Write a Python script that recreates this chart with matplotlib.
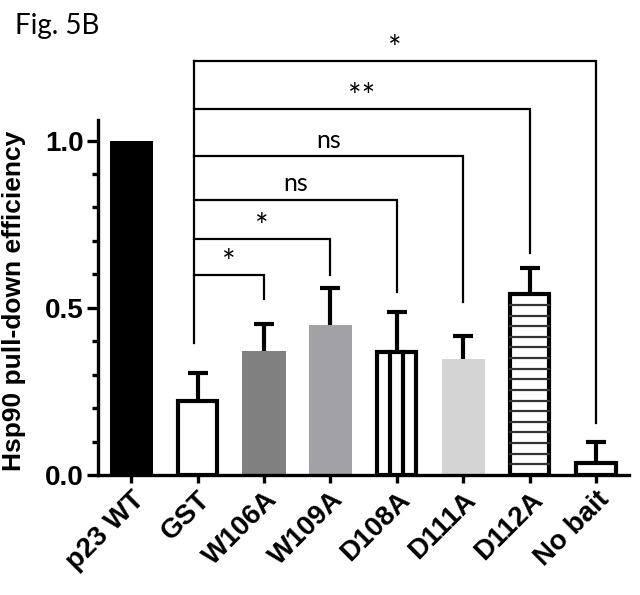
import numpy as np
import matplotlib
matplotlib.use("Agg")
import matplotlib.pyplot as plt
from matplotlib.ticker import FixedLocator

# datos
categorias = ["p23 WT", "GST", "W106A", "W109A", "D108A", "D111A", "D112A", "No bait"]
medias = [1.0, 0.22, 0.37, 0.447, 0.368, 0.348, 0.54, 0.037]
errores = [0.0, 0.085, 0.082, 0.113, 0.12, 0.069, 0.08, 0.063]
colores = ["black", "white", "#808080", "#a2a2a6", "white", "#d4d4d4", "white", "white"]
con_borde = [False, True, False, False, True, False, True, True]

# brackets de significancia (todas contra GST)
comp_destino = [2, 3, 4, 5, 6, 7]
comp_altura = [0.599, 0.706, 0.822, 0.953, 1.095, 1.237]
comp_fondo = [0.527, 0.597, 0.548, 0.518, 0.665, 0.156]
comp_texto = ["*", "*", "ns", "ns", "**", "*"]
gst_fondo = 0.396

plt.rcParams["font.family"] = ["Liberation Sans", "DejaVu Sans"]
fig = plt.figure(figsize=(6.4, 5.95), dpi=100)
ax = fig.add_axes([0.153, 0.2017, 0.830, 0.7308])

x = np.arange(len(categorias))
LW = 3.0
for i, (m, c, b) in enumerate(zip(medias, colores, con_borde)):
    w = 0.59 if b else 0.65
    ax.bar(x[i], m, width=w, color=c, edgecolor="black" if b else c,
           linewidth=LW if b else 0, zorder=2)
    if errores[i] > 0:
        _, caps, _ = ax.errorbar(x[i], m, yerr=[[0], [errores[i]]], fmt="none",
                                 ecolor="black", elinewidth=LW, capsize=7.5,
                                 capthick=LW, zorder=1)
        # solo la tapa superior
        for cap in caps:
            if np.allclose(cap.get_ydata(), m):
                cap.set_visible(False)

# rayado vertical D108A
i = categorias.index("D108A")
for dx in (-0.59 / 6, 0.59 / 6):
    ax.plot([x[i] + dx] * 2, [0, medias[i]], color="black", lw=LW, zorder=3)
# rayado horizontal D112A
i = categorias.index("D112A")
paso = medias[i] / 17
for k in range(1, 17):
    ax.plot([x[i] - 0.59 / 2, x[i] + 0.59 / 2], [k * paso] * 2,
            color="#333333", lw=1.6, zorder=3)

# brackets
x0 = x[1] - 0.05
ax.plot([x0, x0], [gst_fondo, max(comp_altura)], color="black", lw=1.6,
        clip_on=False, zorder=4)
for d, h, f, t in zip(comp_destino, comp_altura, comp_fondo, comp_texto):
    ax.plot([x0, x[d], x[d]], [h, h, f], color="black", lw=1.6,
            clip_on=False, zorder=4, solid_joinstyle="miter")
    if "*" in t:
        ax.text((x0 + x[d]) / 2, h - 0.012, t, ha="center", va="bottom",
                fontsize=23, family=["Lato", "DejaVu Sans"])
    else:
        ax.text((x0 + x[d]) / 2, h + 0.014, t, ha="center", va="bottom",
                fontsize=18, family=["Lato", "DejaVu Sans"])

ax.set_xlim(-0.5, 7.5)
ax.set_ylim(0, 1.30)
ax.spines[["top", "right"]].set_visible(False)
ax.spines["left"].set_bounds(0, 1.06)
ax.spines["left"].set_linewidth(2.4)
ax.spines["bottom"].set_linewidth(2.4)
ax.set_yticks([0, 0.5, 1.0], ["0.0", "0.5", "1.0"])
ax.yaxis.set_minor_locator(FixedLocator([0.1, 0.2, 0.3, 0.4, 0.6, 0.7, 0.8, 0.9]))
ax.tick_params(axis="y", which="major", length=8, width=2.4, labelsize=20, pad=2)
ax.tick_params(axis="y", which="minor", length=4.5, width=2.4)
ax.tick_params(axis="x", length=5.5, width=2.4, labelsize=20, pad=3)
ax.set_xticks(x)
ax.set_xticklabels(categorias, rotation=45, ha="right", rotation_mode="anchor")
for lab in ax.get_xticklabels() + ax.get_yticklabels():
    lab.set_fontweight("bold")
ax.set_ylabel("Hsp90 pull-down efficiency", fontsize=19, fontweight="bold")
ax.yaxis.set_label_coords(-0.135, 0.52 / 1.30)

fig.text(0.023, 0.935, "Fig. 5B", fontsize=20, family=["Lato", "DejaVu Sans"],
         ha="left", va="bottom")

fig.savefig("out.png", dpi=100)
